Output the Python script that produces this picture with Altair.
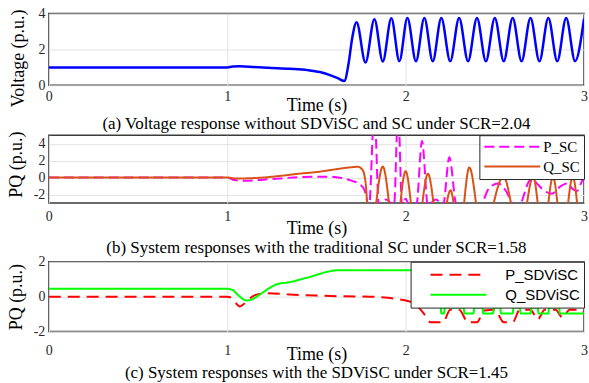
import altair as alt
import pandas as pd

SERIF = "Liberation Serif"
SANS = "Liberation Sans"

# ---------------- data ----------------
x_ticks = [0, 1, 2, 3]
a_yticks = [0, 2, 4]
b_yticks = [-2, 0, 2, 4]
c_yticks = [-2, 0, 2]

# (a) voltage
a_time = [0.0, 1.0, 1.03, 1.07, 1.15, 1.25, 1.35, 1.45, 1.52, 1.58, 1.62, 1.656, 1.68, 1.70,
          1.725, 1.775, 1.825, 1.872, 1.92, 1.965, 2.01, 2.058, 2.105, 2.152, 2.2, 2.25,
          2.3, 2.35, 2.4, 2.45, 2.5, 2.55, 2.6, 2.65, 2.7, 2.75, 2.8, 2.85, 2.9, 2.95, 3.0]
a_voltage = [1.0, 1.0, 1.05, 1.06, 1.02, 0.97, 0.92, 0.85, 0.74, 0.56, 0.40, 0.24, 1.2, 2.6,
             3.52, 1.27, 3.69, 1.33, 3.74, 1.35, 3.75, 1.35, 3.75, 1.35, 3.75, 1.35,
             3.75, 1.35, 3.75, 1.35, 3.75, 1.35, 3.75, 1.35, 3.75, 1.35, 3.75, 1.35, 3.75, 1.35, 3.72]

# (b) traditional SC
b_series = ["P_SC", "Q_SC"]
b_p_time = [0.0, 1.0, 1.04, 1.1, 1.2, 1.3, 1.4, 1.5, 1.58, 1.64, 1.7, 1.74, 1.77, 1.795,
            1.825, 1.85, 1.89, 1.935, 1.958, 1.98, 2.0, 2.02, 2.06, 2.092, 2.125, 2.17,
            2.21, 2.245, 2.285, 2.35, 2.42, 2.47, 2.52, 2.56, 2.61, 2.635, 2.69, 2.705,
            2.74, 2.78, 2.82, 2.87, 2.905, 2.94, 2.96, 2.985, 3.0]
b_p_value = [0.0, 0.0, -0.3, -0.38, -0.25, -0.1, 0.05, 0.1, 0.1, -0.05, -0.4, -0.75, -1.5, -3.4,
             8.0, -3.3, -2.6, -3.3, 8.0, -3.3, -2.5, -3.3, -3.3, 4.3, -3.3, -2.6,
             -3.3, 2.4, -3.3, -4.0, -3.3, -1.2, -0.7, -1.5, -3.3, -3.3, -0.5, -0.1,
             -0.8, -1.6, -1.9, -1.0, -0.7, -1.4, -1.6, -0.6, 0.1]
b_q_time = [0.0, 1.0, 1.05, 1.1, 1.2, 1.3, 1.4, 1.5, 1.6, 1.68, 1.733, 1.76, 1.775, 1.80,
            1.872, 1.94, 2.0, 2.06, 2.125, 2.19, 2.252, 2.30, 2.357, 2.43, 2.548, 2.64,
            2.715, 2.77, 2.826, 2.88, 2.937, 2.99, 3.0]
b_q_value = [0.0, 0.0, -0.12, -0.1, 0.0, 0.2, 0.45, 0.65, 0.95, 1.18, 1.27, 0.86, -0.5, -7.0,
             1.3, -7.0, 0.75, -7.0, 0.45, -7.0, -1.5, -7.0, 1.2, -7.0, 0.1, -7.0,
             0.1, -7.0, 0.1, -7.0, 0.1, -7.0, -6.0]

# (c) SDViSC
c_series = ["P_SDViSC", "Q_SDViSC"]
c_p_time = [0.0, 1.0, 1.03, 1.055, 1.07, 1.09, 1.12, 1.16, 1.22, 1.35, 1.5, 1.65, 1.8, 1.9,
            1.98, 2.05, 2.1, 2.14, 2.21, 2.25, 2.3, 2.35, 2.4, 2.44, 2.5, 2.55, 2.6, 2.64,
            2.7, 2.74, 2.78, 2.84, 2.88, 2.92, 2.98, 3.0]
c_p_value = [0.0, 0.0, -0.12, -0.45, -0.57, -0.45, -0.15, 0.1, 0.2, 0.12, 0.06, 0.02, 0.0, -0.07,
             -0.18, -0.4, -0.95, -1.47, -1.47, -0.75, -0.75, -1.47, -1.47, -0.8, -0.75, -1.47, -1.47, -0.75,
             -0.75, -1.3, -0.75, -0.75, -1.2, -0.75, -0.75, -0.9]
c_q_time = [0.0, 1.0, 1.03, 1.06, 1.09, 1.11, 1.14, 1.18, 1.23, 1.28, 1.344, 1.44, 1.63, 2.06,
            2.1, 2.15, 2.195, 2.2, 2.215, 2.22, 2.325, 2.33, 2.38, 2.385, 2.43, 2.435, 2.49,
            2.495, 2.53, 2.535, 2.6, 2.605, 2.64, 2.645, 2.7, 2.705, 2.74, 2.745, 2.8, 2.805,
            2.86, 2.865, 3.0]
c_q_value = [0.45, 0.45, 0.38, 0.1, -0.15, -0.22, -0.15, 0.1, 0.45, 0.72, 0.82, 1.07, 1.52, 1.52,
             0.6, -0.3, -0.3, -0.97, -0.97, -0.62, -0.62, -0.97, -0.97, -0.62, -0.62, -0.97, -0.97,
             -0.62, -0.62, -0.97, -0.97, -0.62, -0.62, -0.97, -0.97, -0.62, -0.62, -0.97, -0.97, -0.62,
             -0.62, -0.97, -0.97]


def frame(time, values, name):
    return pd.DataFrame({"t": time, "v": values, "s": name, "i": list(range(len(time)))})


df_a = frame(a_time, a_voltage, "V")
df_b = pd.concat([frame(b_p_time, b_p_value, b_series[0]), frame(b_q_time, b_q_value, b_series[1])])
df_c = pd.concat([frame(c_p_time, c_p_value, c_series[0]), frame(c_q_time, c_q_value, c_series[1])])

GRID = "#e3e3e3"
LABEL_COLOR = "#262626"
W = 537


def x_axis(label_pad, title_y):
    return alt.Axis(values=x_ticks, title="Time (s)", labelExpr="'' + datum.value",
                    labelFont=SERIF, labelFontSize=14, labelFontWeight="normal",
                    labelColor=LABEL_COLOR,
                    labelPadding=label_pad, labelFlush=False, labelOverlap=False,
                    ticks=False, domain=False, grid=True, gridColor=GRID, gridWidth=1,
                    titleFont=SERIF, titleFontSize=18, titleFontWeight="normal",
                    titleColor="#000000", titleY=title_y, titleBaseline="alphabetic")


def y_axis(values, title, title_x, title_y):
    return alt.Axis(values=values, title=title, labelExpr="'' + datum.value",
                    labelFont=SERIF, labelFontSize=14, labelFontWeight="normal",
                    labelColor=LABEL_COLOR,
                    labelPadding=4, labelOverlap=False, ticks=False, domain=False,
                    grid=True, gridColor=GRID, gridWidth=1,
                    titleFont=SERIF, titleFontSize=18, titleFontWeight="normal",
                    titleColor="#000000", titleAngle=270, titleX=title_x, titleY=title_y,
                    titleBaseline="alphabetic", titleAlign="center")


def caption(text, offset):
    return alt.TitleParams(text, orient="bottom", anchor="middle", frame="group",
                           font=SERIF, fontSize=17, fontWeight="normal", color="#000000",
                           offset=offset)


xs = alt.Scale(domain=[0, 3], nice=False)

chart_a = alt.Chart(df_a).mark_line(color="#0000FF", strokeWidth=2.5, clip=True,
                                    interpolate="monotone").encode(
    x=alt.X("t:Q", scale=xs, axis=x_axis(4, 25)),
    y=alt.Y("v:Q", scale=alt.Scale(domain=[0, 4], nice=False),
            axis=y_axis(a_yticks, "Voltage (p.u.)", -25.5, 44.5)),
    order="i:Q",
).properties(width=W, height=72,
             title=caption("(a) Voltage response without SDViSC and SC under SCR=2.04", 2))

leg_b = alt.Legend(title=None, orient="top-right", offset=0, fillColor="white",
                   strokeColor="#262626", padding=4, cornerRadius=0,
                   symbolType="stroke", symbolSize=3136, symbolStrokeWidth=2,
                   clipHeight=15, rowPadding=4, labelFont=SERIF, labelFontSize=15,
                   labelFontWeight="normal",
                   labelColor="#000000", labelOffset=2, symbolOffset=0)

chart_b = alt.Chart(df_b).mark_line(strokeWidth=2, clip=True, interpolate="monotone").encode(
    x=alt.X("t:Q", scale=xs, axis=x_axis(7, 31)),
    y=alt.Y("v:Q", scale=alt.Scale(domain=[-3, 5], nice=False),
            axis=y_axis(b_yticks, "PQ (p.u.)", -27.5, 29)),
    color=alt.Color("s:N", scale=alt.Scale(domain=b_series, range=["#FF00FF", "#D95319"]),
                    legend=leg_b),
    strokeDash=alt.StrokeDash("s:N", scale=alt.Scale(domain=b_series, range=[[10, 5], [1, 0]]),
                              legend=leg_b),
    order="i:Q",
).properties(width=W, height=68,
             title=caption("(b) System responses with the traditional SC under SCR=1.58", 2))

leg_c = alt.Legend(title=None, orient="top-right", offset=0, fillColor="white",
                   strokeColor="#262626", padding=4, cornerRadius=0,
                   symbolType="stroke", symbolSize=3136, symbolStrokeWidth=2,
                   clipHeight=18, rowPadding=2, labelFont=SANS, labelFontSize=15,
                   labelFontWeight="normal",
                   labelColor="#000000", labelOffset=18, symbolOffset=15,
                   labelExpr="datum.label + '    '")

chart_c = alt.Chart(df_c).mark_line(strokeWidth=2, clip=True, interpolate="monotone").encode(
    x=alt.X("t:Q", scale=xs, axis=x_axis(12, 28)),
    y=alt.Y("v:Q", scale=alt.Scale(domain=[-2, 2], nice=False),
            axis=y_axis(c_yticks, "PQ (p.u.)", -27.5, 35)),
    color=alt.Color("s:N", scale=alt.Scale(domain=c_series, range=["#FF0000", "#00FF00"]),
                    legend=leg_c),
    strokeDash=alt.StrokeDash("s:N", scale=alt.Scale(domain=c_series, range=[[12, 7], [1, 0]]),
                              legend=leg_c),
    order="i:Q",
).properties(width=W, height=70,
             title=caption("(c) System responses with the SDViSC under SCR=1.45", 2))

chart = alt.vconcat(chart_a, chart_b, chart_c, spacing=-3,
                    padding={"left": 6, "top": 5, "right": 0, "bottom": 0}
                    ).resolve_scale(
    x="independent", y="independent", color="independent", strokeDash="independent"
).resolve_legend(color="independent", strokeDash="independent"
).configure(background="white", font=SERIF,
            style={"guide-label": {"font": SERIF, "fontWeight": "normal"},
                   "guide-title": {"font": SERIF, "fontWeight": "normal"}}
).configure_view(stroke="#3a3a3a", strokeWidth=1.5
).configure_axis(labelFont=SERIF, titleFont=SERIF, titleFontWeight="normal",
                 labelFontWeight="normal"
).configure_legend(labelFont=SERIF
).configure_title(font=SERIF, fontWeight="normal")

chart.save("out.html", embed_options={"renderer": "svg", "actions": False})
